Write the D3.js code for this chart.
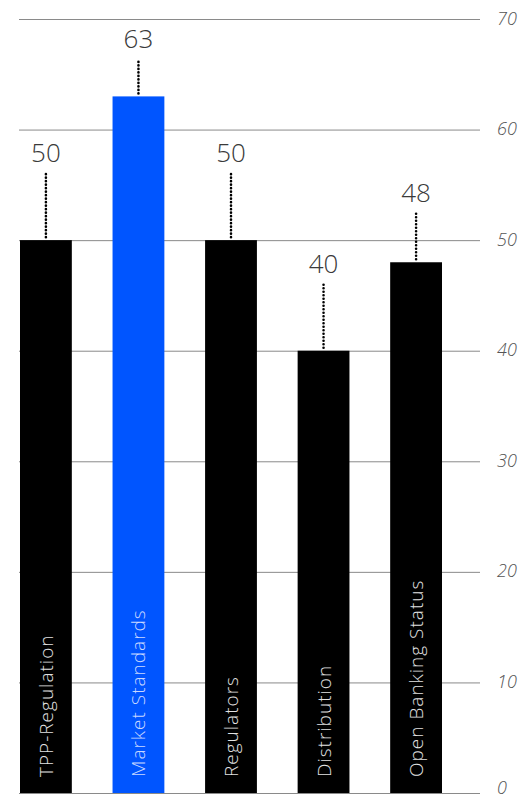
<!DOCTYPE html>
<html>
<head>
<meta charset="utf-8">
<script src="https://cdn.jsdelivr.net/npm/d3@7"></script>
<style>
  html, body { margin: 0; padding: 0; background: #fff; }
  svg { display: block; }
</style>
</head>
<body>
<svg id="chart" width="522" height="797"></svg>
<script>
// Survey categories and their scores
const categories = ["TPP-Regulation", "Market Standards", "Regulators", "Distribution", "Open Banking Status"];
const values = [50, 63, 50, 40, 48];
const highlighted = ["Market Standards"];
const tickValues = [0, 10, 20, 30, 40, 50, 60, 70];

// How far each value label sits above its bar (px), tuned per bar to avoid gridlines
const labelLift = [78, 48, 78, 78, 60];

const margin = { left: 19 };
const plotRight = 480;

const svg = d3.select("#chart");

const y = d3.scaleLinear().domain([0, 70]).range([793, 19]);
const x = d3.scaleBand().domain(categories).range([20, 442]).paddingInner(0.44).paddingOuter(0);

const fontStack = "'Open Sans', 'Noto Sans', sans-serif";

// Gridlines with italic tick labels on the right
const yAxis = d3.axisRight(y)
  .tickValues(tickValues)
  .tickSize(plotRight - margin.left)
  .tickFormat(d3.format("d"));

const gAxis = svg.append("g")
  .attr("transform", `translate(${margin.left},0)`)
  .call(yAxis);
gAxis.select(".domain").remove();
gAxis.selectAll(".tick line")
  .attr("stroke", "#8a8a8a")
  .attr("stroke-width", 1);
gAxis.selectAll(".tick text")
  .attr("x", plotRight - margin.left + 17)
  .attr("dy", d => d === 0 ? "0.02em" : "0.28em")
  .attr("fill", "#555")
  .style("font-family", fontStack)
  .style("font-style", "italic")
  .style("font-weight", 300)
  .style("font-size", "18px");

const data = categories.map((c, i) => ({ c, v: values[i], lift: labelLift[i] }));

// Bars
svg.append("g").selectAll("rect")
  .data(data)
  .join("rect")
  .attr("x", d => x(d.c))
  .attr("width", x.bandwidth())
  .attr("y", d => y(d.v))
  .attr("height", d => y(0) - y(d.v))
  .attr("fill", d => highlighted.includes(d.c) ? "#0055ff" : "#000");

// Dotted leaders from bar top up to value label
svg.append("g").selectAll("line")
  .data(data)
  .join("line")
  .attr("x1", d => x(d.c) + x.bandwidth() / 2)
  .attr("x2", d => x(d.c) + x.bandwidth() / 2)
  .attr("y1", d => y(d.v) - 3)
  .attr("y2", d => y(d.v) - d.lift + 11)
  .attr("stroke", "#000")
  .attr("stroke-width", 2.6)
  .attr("stroke-linecap", "round")
  .attr("stroke-dasharray", "0,3.5");

// Value labels
svg.append("g").selectAll("text")
  .data(data)
  .join("text")
  .attr("x", d => x(d.c) + x.bandwidth() / 2)
  .attr("y", d => y(d.v) - d.lift)
  .attr("text-anchor", "middle")
  .attr("fill", "#3a3a3a")
  .style("font-family", fontStack)
  .style("font-weight", 300)
  .style("font-size", "26px")
  .text(d => d.v);

// Rotated category names inside the bars
svg.append("g").selectAll("text")
  .data(data)
  .join("text")
  .attr("transform", d => `translate(${x(d.c) + x.bandwidth() / 2 + 7},777) rotate(-90)`)
  .attr("text-anchor", "start")
  .attr("fill", d => highlighted.includes(d.c) ? "#c9d8ff" : "#e2e2e2")
  .style("font-family", fontStack)
  .style("font-weight", 300)
  .style("font-size", "19px")
  .style("letter-spacing", "1px")
  .text(d => d.c);
</script>
</body>
</html>
